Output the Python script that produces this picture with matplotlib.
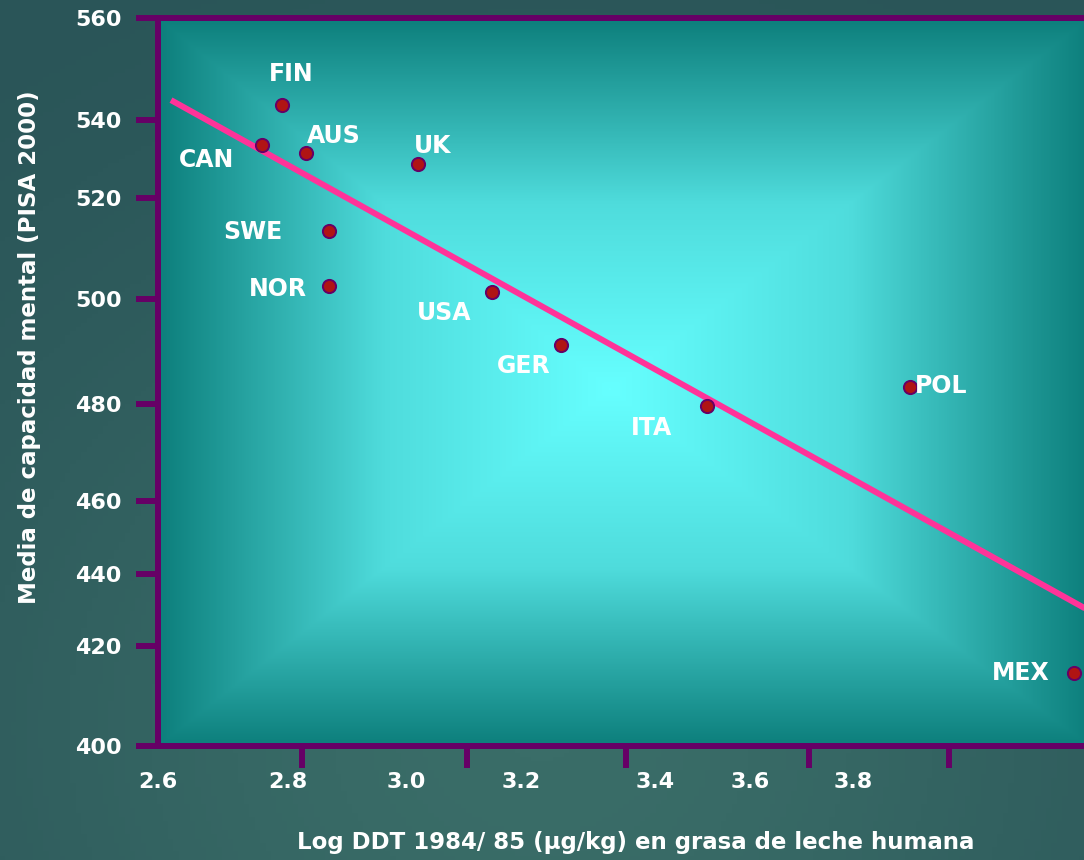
import numpy as np
import matplotlib
matplotlib.use("Agg")
import matplotlib.pyplot as plt
from matplotlib.colors import LinearSegmentedColormap

plt.rcParams['font.family'] = ['DejaVu Sans']
plt.rcParams['font.weight'] = 'bold'

# DDT in breast milk vs PISA 2000 mean score, by country
countries = ["FIN", "CAN", "AUS", "UK", "SWE", "NOR", "USA", "GER", "ITA", "POL", "MEX"]
log_ddt = [2.79, 2.76, 2.83, 3.02, 2.87, 2.87, 3.15, 3.26, 3.51, 3.91, 4.23]
pisa = [543.0, 533.6, 531.5, 528.7, 513.5, 502.6, 501.4, 491.2, 479.6, 483.2, 414.6]

# regression line end points
fit_x = [2.62, 4.26]
fit_y = [543.9, 429.7]

x_ticks = [2.6, 2.8, 3.0, 3.2, 3.4, 3.6, 3.8]
y_ticks = [400, 420, 440, 460, 480, 500, 520, 540, 560]

# the axis graduations on this slide are hand spaced, so each axis uses
# a piecewise linear scale through where every tick sits (figure pixels)
x_tick_pos = [158, 288, 406, 521, 655, 750, 853]
y_tick_pos = [114, 214, 286, 359, 456, 561, 662, 740, 842]
# short purple marks along the x axis (not lined up with the labels)
x_marks = [2.6, 2.824, 3.106, 3.357, 3.715, 3.986]

# label offsets in points from each dot
label_offsets = {
    "FIN": (7, 22), "CAN": (-40, -11), "AUS": (20, 12), "UK": (11, 13),
    "SWE": (-55, -1), "NOR": (-37, -2), "USA": (-35, -15), "GER": (-27, -15),
    "ITA": (-40, -16), "POL": (23, 1), "MEX": (-39, 0),
}


def piecewise(vals, pos):
    vals = np.asarray(vals, float)
    pos = np.asarray(pos, float)

    def interp(v, a, b):
        v = np.asarray(v, float)
        out = np.interp(v, a, b)
        lo_slope = (b[1] - b[0]) / (a[1] - a[0])
        hi_slope = (b[-1] - b[-2]) / (a[-1] - a[-2])
        out = np.where(v < a[0], b[0] + (v - a[0]) * lo_slope, out)
        out = np.where(v > a[-1], b[-1] + (v - a[-1]) * hi_slope, out)
        return out

    return (lambda v: interp(v, vals, pos)), (lambda p: interp(p, pos, vals))


W, H = 1084, 860
fig = plt.figure(figsize=(W / 100, H / 100), dpi=100)

# slide background: dark slate teal, a little lighter low in the middle
bg = fig.add_axes([0, 0, 1, 1], zorder=-5)
gx, gy = np.meshgrid(np.linspace(0, 1, 200), np.linspace(0, 1, 200))
glow = np.exp(-(((gx - 0.5) / 0.55) ** 2 + ((gy - 0.15) / 0.6) ** 2))
bg_cmap = LinearSegmentedColormap.from_list("bg", ["#2a5558", "#3a6d68"])
bg.imshow(glow, cmap=bg_cmap, extent=[0, 1, 0, 1], origin="lower", aspect="auto")
bg.axis("off")

right_px = 1090
ax = fig.add_axes([158 / W, 114 / H, (right_px - 158) / W, (842 - 114) / H])

fx, ix = piecewise(x_ticks, x_tick_pos)
fy, iy = piecewise(y_ticks, y_tick_pos)
ax.set_xscale("function", functions=(fx, ix))
ax.set_yscale("function", functions=(fy, iy))

# rectangular gradient: bright cyan in the middle fading to teal at the frame
cx, cy = 0.485, 0.49
u, v = np.meshgrid(np.linspace(0, 1, 400), np.linspace(0, 1, 400))
t = np.maximum(np.where(u < cx, (cx - u) / cx, (u - cx) / (1 - cx)),
               np.where(v < cy, (cy - v) / cy, (v - cy) / (1 - cy)))
inner_cmap = LinearSegmentedColormap.from_list("inner", ["#66ffff", "#4fdcdc", "#0d7f7c"])
ax.imshow(t, cmap=inner_cmap, extent=[0, 1, 0, 1], origin="lower",
          transform=ax.transAxes, aspect="auto", zorder=0, interpolation="bilinear")

ax.plot(fit_x, fit_y, color="#ff3399", lw=4.3, solid_capstyle="butt", zorder=3)
ax.plot(log_ddt, pisa, "o", ms=9.5, mfc="#b01414", mec="#660066", mew=1.4, zorder=4)

for name, x, y in zip(countries, log_ddt, pisa):
    ax.annotate(name, (x, y), xytext=label_offsets[name], textcoords="offset points",
                ha="center", va="center", color="white", fontsize=17, fontweight="bold",
                zorder=5)

ax.set_autoscale_on(False)
ax.set_xlim(2.6, ix(right_px))
ax.set_ylim(400, 560)

purple = "#660066"
for side in ["left", "bottom", "top"]:
    ax.spines[side].set_color(purple)
    ax.spines[side].set_linewidth(4.3)
ax.spines["right"].set_visible(False)

ax.set_yticks(y_ticks)
ax.set_yticklabels([str(v) for v in y_ticks])
ax.tick_params(axis="y", length=16, width=4.3, color=purple, pad=10,
               labelsize=16, labelcolor="white")

ax.set_xticks(x_ticks)
ax.set_xticklabels([f"{v:.1f}" for v in x_ticks])
ax.set_xticks(x_marks, minor=True)
ax.tick_params(axis="x", which="major", length=0, pad=19, labelsize=16, labelcolor="white")
ax.tick_params(axis="x", which="minor", length=16, width=4.3, color=purple)
ax.yaxis.set_minor_locator(matplotlib.ticker.NullLocator())
for lab in ax.get_xticklabels() + ax.get_yticklabels():
    lab.set_fontweight("bold")

fig.text(636 / W, 1 - 843 / H, "Log DDT 1984/ 85 (\u00b5g/kg) en grasa de leche humana",
         ha="center", va="center", color="white", fontsize=16.5, fontweight="bold")
fig.text(30 / W, 1 - 347 / H, "Media de capacidad mental (PISA 2000)", rotation=90,
         ha="center", va="center", color="white", fontsize=16.5, fontweight="bold")

fig.savefig("out.png", dpi=100)
